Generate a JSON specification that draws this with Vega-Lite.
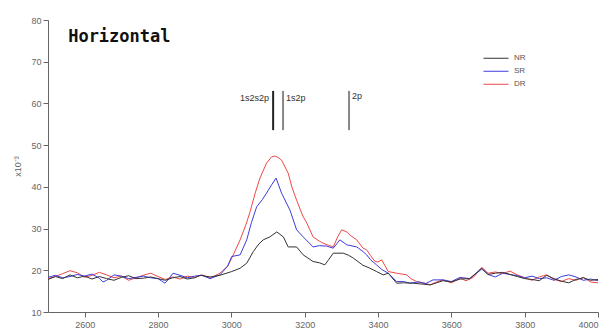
{
  "$schema": "https://vega.github.io/schema/vega-lite/v6.json",
  "width": 550,
  "height": 292,
  "autosize": {"type": "none"},
  "padding": {"left": 48, "top": 20, "right": 13, "bottom": 18},
  "background": "white",
  "config": {
    "view": {"stroke": null},
    "font": "Liberation Sans",
    "axis": {"grid": false, "domainColor": "#666", "tickColor": "#666", "labelColor": "#666", "labelFontSize": 9, "tickSize": 5, "domainWidth": 1, "tickWidth": 1}
  },
  "datasets": {
    "spec": [
      {"x":2500,"s":"DR","v":18.0},{"x":2520,"s":"DR","v":18.5},{"x":2540,"s":"DR","v":19.2},{"x":2560,"s":"DR","v":19.9},{"x":2580,"s":"DR","v":19.4},{"x":2600,"s":"DR","v":18.3},{"x":2620,"s":"DR","v":18.8},{"x":2640,"s":"DR","v":19.5},{"x":2660,"s":"DR","v":18.9},{"x":2680,"s":"DR","v":18.2},{"x":2700,"s":"DR","v":18.6},{"x":2720,"s":"DR","v":17.6},{"x":2740,"s":"DR","v":18.2},{"x":2760,"s":"DR","v":18.8},{"x":2780,"s":"DR","v":19.3},{"x":2800,"s":"DR","v":18.5},{"x":2820,"s":"DR","v":17.8},{"x":2840,"s":"DR","v":18.4},{"x":2860,"s":"DR","v":17.9},{"x":2880,"s":"DR","v":18.6},{"x":2900,"s":"DR","v":18.3},{"x":2920,"s":"DR","v":18.9},{"x":2942,"s":"DR","v":18.1},{"x":2969,"s":"DR","v":19.3},{"x":2990,"s":"DR","v":21.0},{"x":3001,"s":"DR","v":22.9},{"x":3024,"s":"DR","v":27.3},{"x":3040,"s":"DR","v":31.0},{"x":3051,"s":"DR","v":34.0},{"x":3065,"s":"DR","v":38.5},{"x":3078,"s":"DR","v":42.1},{"x":3096,"s":"DR","v":45.7},{"x":3110,"s":"DR","v":47.2},{"x":3119,"s":"DR","v":47.4},{"x":3130,"s":"DR","v":46.9},{"x":3137,"s":"DR","v":46.4},{"x":3155,"s":"DR","v":43.3},{"x":3165,"s":"DR","v":40.0},{"x":3178,"s":"DR","v":36.8},{"x":3195,"s":"DR","v":33.0},{"x":3206,"s":"DR","v":31.3},{"x":3223,"s":"DR","v":28.0},{"x":3240,"s":"DR","v":27.0},{"x":3250,"s":"DR","v":26.5},{"x":3265,"s":"DR","v":26.0},{"x":3278,"s":"DR","v":25.6},{"x":3290,"s":"DR","v":28.0},{"x":3301,"s":"DR","v":29.7},{"x":3315,"s":"DR","v":29.2},{"x":3324,"s":"DR","v":28.4},{"x":3342,"s":"DR","v":27.3},{"x":3359,"s":"DR","v":25.3},{"x":3369,"s":"DR","v":24.9},{"x":3380,"s":"DR","v":23.5},{"x":3392,"s":"DR","v":22.1},{"x":3400,"s":"DR","v":22.0},{"x":3410,"s":"DR","v":22.5},{"x":3428,"s":"DR","v":19.7},{"x":3451,"s":"DR","v":19.3},{"x":3478,"s":"DR","v":18.9},{"x":3490,"s":"DR","v":18.0},{"x":3505,"s":"DR","v":17.3},{"x":3525,"s":"DR","v":17.0},{"x":3542,"s":"DR","v":16.5},{"x":3560,"s":"DR","v":17.2},{"x":3577,"s":"DR","v":17.7},{"x":3600,"s":"DR","v":17.0},{"x":3624,"s":"DR","v":18.1},{"x":3640,"s":"DR","v":17.5},{"x":3660,"s":"DR","v":18.3},{"x":3683,"s":"DR","v":20.7},{"x":3700,"s":"DR","v":19.3},{"x":3720,"s":"DR","v":19.6},{"x":3740,"s":"DR","v":19.2},{"x":3760,"s":"DR","v":19.8},{"x":3780,"s":"DR","v":18.9},{"x":3800,"s":"DR","v":18.2},{"x":3820,"s":"DR","v":17.6},{"x":3840,"s":"DR","v":18.4},{"x":3860,"s":"DR","v":18.9},{"x":3880,"s":"DR","v":17.8},{"x":3900,"s":"DR","v":17.3},{"x":3920,"s":"DR","v":18.0},{"x":3940,"s":"DR","v":17.6},{"x":3960,"s":"DR","v":18.3},{"x":3980,"s":"DR","v":17.2},{"x":4000,"s":"DR","v":17.0},

      {"x":2500,"s":"SR","v":18.3},{"x":2520,"s":"SR","v":18.8},{"x":2540,"s":"SR","v":18.2},{"x":2560,"s":"SR","v":18.5},{"x":2580,"s":"SR","v":19.0},{"x":2600,"s":"SR","v":18.6},{"x":2620,"s":"SR","v":19.1},{"x":2640,"s":"SR","v":18.1},{"x":2650,"s":"SR","v":17.2},{"x":2660,"s":"SR","v":17.6},{"x":2680,"s":"SR","v":18.9},{"x":2700,"s":"SR","v":18.6},{"x":2720,"s":"SR","v":18.0},{"x":2740,"s":"SR","v":18.3},{"x":2760,"s":"SR","v":18.6},{"x":2780,"s":"SR","v":18.2},{"x":2800,"s":"SR","v":18.0},{"x":2819,"s":"SR","v":16.9},{"x":2830,"s":"SR","v":18.0},{"x":2841,"s":"SR","v":19.3},{"x":2860,"s":"SR","v":18.8},{"x":2880,"s":"SR","v":18.2},{"x":2900,"s":"SR","v":18.6},{"x":2920,"s":"SR","v":18.8},{"x":2942,"s":"SR","v":18.0},{"x":2969,"s":"SR","v":18.9},{"x":2990,"s":"SR","v":21.0},{"x":3001,"s":"SR","v":23.3},{"x":3024,"s":"SR","v":23.7},{"x":3042,"s":"SR","v":27.3},{"x":3055,"s":"SR","v":31.5},{"x":3069,"s":"SR","v":35.2},{"x":3085,"s":"SR","v":37.0},{"x":3096,"s":"SR","v":38.5},{"x":3110,"s":"SR","v":40.5},{"x":3122,"s":"SR","v":42.1},{"x":3137,"s":"SR","v":38.5},{"x":3160,"s":"SR","v":34.4},{"x":3178,"s":"SR","v":29.7},{"x":3196,"s":"SR","v":28.0},{"x":3223,"s":"SR","v":25.6},{"x":3240,"s":"SR","v":25.9},{"x":3260,"s":"SR","v":25.8},{"x":3278,"s":"SR","v":25.3},{"x":3296,"s":"SR","v":27.3},{"x":3315,"s":"SR","v":26.1},{"x":3342,"s":"SR","v":25.6},{"x":3359,"s":"SR","v":24.5},{"x":3369,"s":"SR","v":23.7},{"x":3380,"s":"SR","v":22.5},{"x":3396,"s":"SR","v":21.3},{"x":3410,"s":"SR","v":20.2},{"x":3428,"s":"SR","v":19.3},{"x":3451,"s":"SR","v":17.3},{"x":3470,"s":"SR","v":17.3},{"x":3487,"s":"SR","v":16.9},{"x":3510,"s":"SR","v":17.2},{"x":3530,"s":"SR","v":16.8},{"x":3550,"s":"SR","v":17.7},{"x":3577,"s":"SR","v":17.7},{"x":3600,"s":"SR","v":17.3},{"x":3624,"s":"SR","v":18.3},{"x":3650,"s":"SR","v":18.0},{"x":3683,"s":"SR","v":20.3},{"x":3700,"s":"SR","v":19.0},{"x":3720,"s":"SR","v":18.4},{"x":3740,"s":"SR","v":19.3},{"x":3760,"s":"SR","v":19.0},{"x":3780,"s":"SR","v":18.7},{"x":3800,"s":"SR","v":18.2},{"x":3820,"s":"SR","v":18.6},{"x":3840,"s":"SR","v":18.0},{"x":3860,"s":"SR","v":18.2},{"x":3880,"s":"SR","v":17.6},{"x":3900,"s":"SR","v":18.5},{"x":3920,"s":"SR","v":18.9},{"x":3940,"s":"SR","v":18.4},{"x":3960,"s":"SR","v":17.6},{"x":3980,"s":"SR","v":17.9},{"x":4000,"s":"SR","v":17.5},

      {"x":2500,"s":"NR","v":17.8},{"x":2520,"s":"NR","v":18.5},{"x":2540,"s":"NR","v":18.0},{"x":2560,"s":"NR","v":18.9},{"x":2580,"s":"NR","v":18.2},{"x":2600,"s":"NR","v":18.6},{"x":2620,"s":"NR","v":17.9},{"x":2640,"s":"NR","v":18.5},{"x":2660,"s":"NR","v":18.0},{"x":2680,"s":"NR","v":17.6},{"x":2700,"s":"NR","v":18.3},{"x":2720,"s":"NR","v":18.7},{"x":2740,"s":"NR","v":18.0},{"x":2760,"s":"NR","v":18.1},{"x":2780,"s":"NR","v":18.4},{"x":2800,"s":"NR","v":18.0},{"x":2820,"s":"NR","v":17.6},{"x":2840,"s":"NR","v":18.2},{"x":2860,"s":"NR","v":18.5},{"x":2880,"s":"NR","v":17.9},{"x":2900,"s":"NR","v":18.2},{"x":2915,"s":"NR","v":18.8},{"x":2942,"s":"NR","v":18.4},{"x":2969,"s":"NR","v":18.8},{"x":3001,"s":"NR","v":19.7},{"x":3024,"s":"NR","v":20.5},{"x":3042,"s":"NR","v":21.7},{"x":3060,"s":"NR","v":24.5},{"x":3075,"s":"NR","v":26.3},{"x":3087,"s":"NR","v":27.3},{"x":3105,"s":"NR","v":28.0},{"x":3124,"s":"NR","v":29.2},{"x":3142,"s":"NR","v":28.0},{"x":3155,"s":"NR","v":25.6},{"x":3178,"s":"NR","v":25.6},{"x":3196,"s":"NR","v":23.7},{"x":3223,"s":"NR","v":22.1},{"x":3240,"s":"NR","v":21.8},{"x":3255,"s":"NR","v":21.3},{"x":3265,"s":"NR","v":22.5},{"x":3278,"s":"NR","v":24.1},{"x":3305,"s":"NR","v":24.1},{"x":3320,"s":"NR","v":23.6},{"x":3333,"s":"NR","v":22.9},{"x":3359,"s":"NR","v":21.2},{"x":3378,"s":"NR","v":20.5},{"x":3396,"s":"NR","v":19.7},{"x":3414,"s":"NR","v":18.9},{"x":3428,"s":"NR","v":19.3},{"x":3451,"s":"NR","v":16.9},{"x":3470,"s":"NR","v":17.0},{"x":3496,"s":"NR","v":16.9},{"x":3520,"s":"NR","v":16.7},{"x":3542,"s":"NR","v":16.5},{"x":3560,"s":"NR","v":17.0},{"x":3577,"s":"NR","v":17.5},{"x":3600,"s":"NR","v":17.2},{"x":3624,"s":"NR","v":17.9},{"x":3650,"s":"NR","v":18.0},{"x":3683,"s":"NR","v":20.5},{"x":3700,"s":"NR","v":19.0},{"x":3720,"s":"NR","v":19.3},{"x":3740,"s":"NR","v":19.5},{"x":3760,"s":"NR","v":19.0},{"x":3780,"s":"NR","v":18.5},{"x":3800,"s":"NR","v":18.0},{"x":3820,"s":"NR","v":17.8},{"x":3840,"s":"NR","v":17.5},{"x":3860,"s":"NR","v":18.8},{"x":3880,"s":"NR","v":18.0},{"x":3900,"s":"NR","v":17.4},{"x":3920,"s":"NR","v":17.0},{"x":3940,"s":"NR","v":17.8},{"x":3960,"s":"NR","v":18.2},{"x":3980,"s":"NR","v":17.6},{"x":4000,"s":"NR","v":17.8}
    ],
    "marks": [
      {"label":"1s2s2p","x":3114,"y1":53.6,"y2":63.0,"shade":"#222","side":"left","ly":61.3},
      {"label":"1s2p","x":3141,"y1":53.6,"y2":63.0,"shade":"#888","side":"right","ly":61.3},
      {"label":"2p","x":3321,"y1":53.6,"y2":63.0,"shade":"#888","side":"right","ly":61.8}
    ]
  },
  "layer": [
    {
      "data": {"name": "spec"},
      "mark": {"type": "line", "strokeWidth": 1, "interpolate": "linear"},
      "encoding": {
        "x": {"field": "x", "type": "quantitative", "scale": {"domain": [2500, 4000], "nice": false, "zero": false},
              "axis": {"values": [2600, 2800, 3000, 3200, 3400, 3600, 3800, 4000], "format": "d", "title": null, "labelPadding": 3}},
        "y": {"field": "v", "type": "quantitative", "scale": {"domain": [10, 80], "nice": false, "zero": false},
              "axis": {"values": [10, 20, 30, 40, 50, 60, 70, 80], "format": "d", "title": "x10\u207b\u00b3", "titleFontSize": 9, "titleFontWeight": "normal", "titleColor": "#666", "titlePadding": 8, "labelPadding": 2}},
        "color": {"field": "s", "type": "nominal",
                  "scale": {"domain": ["NR", "SR", "DR"], "range": ["#333333", "#3c3ce0", "#f04848"]},
                  "legend": {"title": null, "orient": "none", "legendX": 435, "legendY": 32, "symbolType": "stroke", "symbolSize": 625, "symbolStrokeWidth": 1, "clipHeight": 12.5, "rowPadding": 0, "labelFontSize": 8, "labelColor": "#555", "labelOffset": 5}}
      }
    },
    {
      "data": {"name": "marks"},
      "mark": {"type": "rule", "strokeWidth": 2},
      "encoding": {
        "x": {"field": "x", "type": "quantitative"},
        "y": {"field": "y1", "type": "quantitative"},
        "y2": {"field": "y2"},
        "stroke": {"field": "shade", "type": "nominal", "scale": null}
      }
    },
    {
      "data": {"name": "marks"},
      "transform": [{"filter": "datum.side === 'left'"}],
      "mark": {"type": "text", "fontSize": 9, "color": "#333", "baseline": "middle", "align": "right", "dx": -4},
      "encoding": {
        "x": {"field": "x", "type": "quantitative"},
        "y": {"field": "ly", "type": "quantitative"},
        "text": {"field": "label"}
      }
    },
    {
      "data": {"name": "marks"},
      "transform": [{"filter": "datum.side === 'right'"}],
      "mark": {"type": "text", "fontSize": 9, "color": "#333", "baseline": "middle", "align": "left", "dx": 3},
      "encoding": {
        "x": {"field": "x", "type": "quantitative"},
        "y": {"field": "ly", "type": "quantitative"},
        "text": {"field": "label"}
      }
    },
    {
      "data": {"values": [{"t": "Horizontal", "x": 2555, "y": 76.0}]},
      "mark": {"type": "text", "font": "DejaVu Sans Mono", "fontWeight": "bold", "fontSize": 17, "align": "left", "baseline": "middle", "color": "#111"},
      "encoding": {
        "x": {"field": "x", "type": "quantitative"},
        "y": {"field": "y", "type": "quantitative"},
        "text": {"field": "t"}
      }
    }
  ]
}
